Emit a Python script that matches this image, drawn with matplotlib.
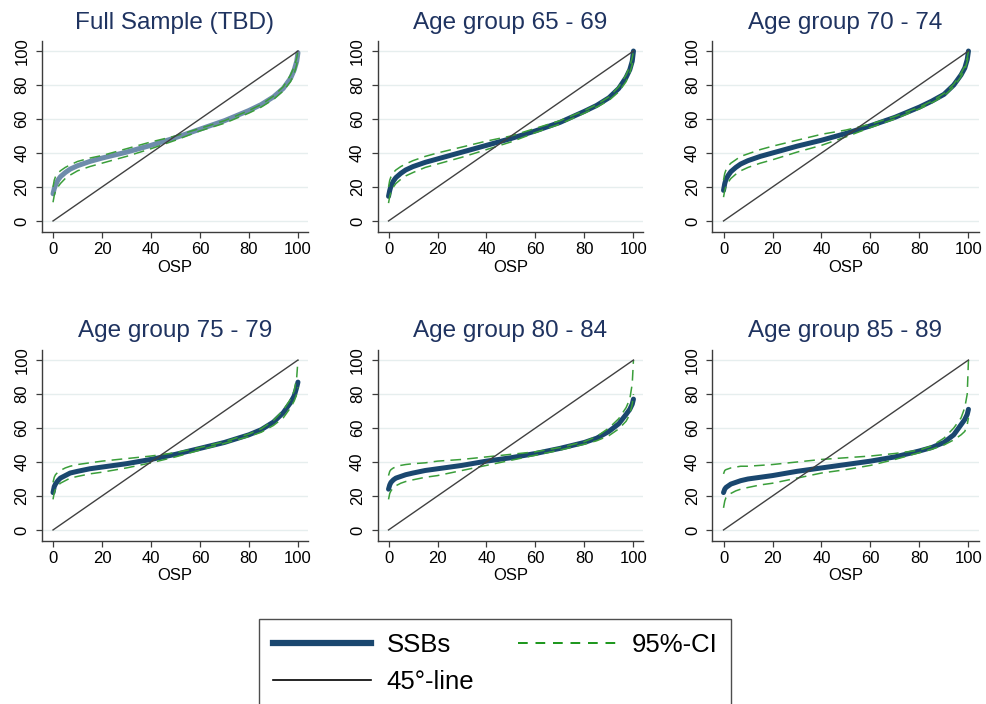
import matplotlib
matplotlib.use("Agg")
from matplotlib import pyplot as plt
from matplotlib.lines import Line2D

plt.rcParams["font.family"] = ["Liberation Sans", "DejaVu Sans"]

# OSP grid the curves were read at
osp = [0, 0.5, 1, 2, 3, 5, 7, 10, 15, 20, 30, 40, 50, 60, 70, 80, 85, 90, 94, 97, 98.5, 99.5, 100]

titles = ["Full Sample (TBD)", "Age group 65 - 69", "Age group 70 - 74",
          "Age group 75 - 79", "Age group 80 - 84", "Age group 85 - 89"]

ssb_full = [16, 19, 21, 24, 26, 28.5, 30.5, 32.5, 35, 37, 40.5, 44.5, 49, 54, 59, 65, 68.5, 73, 78, 84, 89, 94, 99]
hi_full = [20, 24, 26, 28, 29.5, 31.5, 33, 35, 37, 38.5, 42.5, 46.5, 50, 54.5, 59, 65, 68.5, 73.5, 79, 86, 91, 96, 100]
lo_full = [11, 15, 17.5, 20, 22, 25, 27, 29.5, 32, 34, 38, 42.5, 47.5, 53, 57.5, 63.5, 67, 71.5, 76.5, 82, 87, 92, 97]

ssb_6569 = [14.5, 18, 20.5, 23.5, 25.5, 28, 30, 32, 34.5, 36.5, 40.5, 44.5, 48.5, 53, 58, 64.5, 68, 72.5, 78, 84.5, 89, 94, 100]
hi_6569 = [20, 24, 26, 28.5, 30, 32, 33.5, 35.5, 38, 40, 43.5, 47, 50, 54.5, 59, 65, 68.5, 73, 79, 86, 91, 96, 100]
lo_6569 = [10.5, 14.5, 17, 20, 22, 24.5, 26.5, 28.5, 31.5, 33.5, 37.5, 42, 46.5, 52, 57, 63.5, 67, 71, 76, 82, 87, 92, 96]

ssb_7074 = [18, 22, 24.5, 27, 29, 31.5, 33.5, 35.5, 38, 40, 44, 47.5, 51.5, 56, 61, 67, 70.5, 74.5, 80, 86, 90, 95, 100]
hi_7074 = [24, 28, 30, 32.5, 34, 36, 38, 39.5, 42, 44, 47.5, 51, 53.5, 57, 61.5, 67, 70.5, 75, 80.5, 87, 91, 96, 100]
lo_7074 = [14, 18, 20.5, 23, 25, 27.5, 29.5, 31.5, 34, 36, 40.5, 44.5, 49.5, 55, 60, 66, 69.5, 73.5, 79, 85, 89, 94, 98]

ssb_7579 = [22, 25.5, 27, 29, 30.5, 32, 33.5, 34.5, 36, 37, 39, 41.5, 44.5, 48, 51.5, 56, 59, 63.5, 69, 75, 79, 84, 87]
hi_7579 = [28, 31, 32.5, 34, 35, 36.5, 37.5, 38.5, 39.5, 40.5, 42, 43.5, 45.5, 48.5, 52, 56.5, 59.5, 64.5, 70.5, 77, 82, 90, 100]
lo_7579 = [18, 22, 24, 26, 27.5, 29, 30.5, 31.5, 33, 34, 36.5, 39.5, 43, 47, 51, 55, 57.5, 61.5, 66, 72, 76, 80, 84]

ssb_8084 = [24, 26.5, 28, 29.5, 30.5, 31.5, 32.5, 33.5, 35, 36, 38, 40.5, 42.5, 45, 48, 51.5, 54, 58, 62.5, 68, 71, 74, 77]
hi_8084 = [32, 34.5, 35.5, 36.5, 37, 38, 38.5, 39, 39.5, 40.5, 41.5, 43, 44.5, 46, 48.5, 52, 55, 60, 65.5, 72, 77, 86, 100]
lo_8084 = [18, 21.5, 23, 25, 26, 27.5, 28.5, 29.5, 31, 32, 35, 38, 41, 44, 47, 50.5, 52.5, 55.5, 59.5, 64, 68, 74, 80]

ssb_8589 = [22, 24, 25, 26, 27, 28, 29, 30, 31, 32, 34.5, 36.5, 38.5, 40.5, 43, 46.5, 48.5, 51.5, 56, 62, 65, 68, 71]
hi_8589 = [33, 35, 35.5, 36, 36.5, 37, 37.5, 37.5, 38, 38.5, 40, 41.5, 42.5, 43.5, 45, 47, 49.5, 54, 60, 66, 72, 80, 100]
lo_8589 = [13, 17, 19, 20.5, 21.5, 23, 24, 25, 26.5, 27.5, 30.5, 33.5, 35.5, 38, 41.5, 45.5, 47.5, 50, 53, 56, 58, 62, 66]

ssb = [ssb_full, ssb_6569, ssb_7074, ssb_7579, ssb_8084, ssb_8589]
ci_hi = [hi_full, hi_6569, hi_7074, hi_7579, hi_8084, hi_8589]
ci_lo = [lo_full, lo_6569, lo_7074, lo_7579, lo_8084, lo_8589]

diag = [0, 100]
ticks = [0, 20, 40, 60, 80, 100]

navy = "#1a476f"
navy_light = "#6e8cab"
green = "#3a9e3a"
title_col = "#1f3360"
spine_col = "#3c3c3c"

W, H = 987, 704
fig = plt.figure(figsize=(W / 100, H / 100), dpi=100)

lefts = [42, 377.5, 712.5]
tops = [41, 350]
aw, ah = 266, 191

for i in range(6):
    r, c = divmod(i, 3)
    ax = fig.add_axes([lefts[c] / W, 1 - (tops[r] + ah) / H, aw / W, ah / H])
    col = navy_light if i == 0 else navy
    ax.plot(osp, ssb[i], color=col, lw=3.6, solid_capstyle="round", zorder=2)
    ax.plot(osp, ci_hi[i], color=green, lw=1.1, ls=(0, (7, 4)), zorder=3)
    ax.plot(osp, ci_lo[i], color=green, lw=1.1, ls=(0, (7, 4)), zorder=3)
    ax.plot(diag, diag, color="#404040", lw=1.0, zorder=4)

    ax.set_xlim(-4.5, 104.1)
    ax.set_ylim(-6.5, 105.9)
    ax.set_xticks(ticks)
    ax.set_yticks(ticks)
    ax.grid(axis="y", color="#e6eeee", lw=1.0)
    ax.set_axisbelow(True)
    for s in ["top", "right"]:
        ax.spines[s].set_visible(False)
    for s in ["left", "bottom"]:
        ax.spines[s].set_color(spine_col)
        ax.spines[s].set_linewidth(1.0)
    ax.tick_params(colors=spine_col, labelcolor="black", labelsize=12, length=4, width=0.9)
    ax.tick_params(axis="x", pad=3)
    ax.tick_params(axis="y", pad=5)
    for lab in ax.get_yticklabels():
        lab.set_rotation(90)
        lab.set_va("center")
    ax.set_xlabel("OSP", fontsize=12, labelpad=2)
    ax.set_title(titles[i], fontsize=17.5, color=title_col, pad=9)

handles = [
    Line2D([], [], color=navy, lw=4.5),
    Line2D([], [], color="black", lw=1.2),
    Line2D([], [], color="#1a961a", lw=1.4, ls=(0, (5, 4))),
]
labels = ["SSBs", "45\u00b0-line", "95%-CI"]
leg = fig.legend(handles, labels, ncol=2, loc="upper left",
                 bbox_to_anchor=(259 / W, 1 - 619 / H), fontsize=18.5,
                 frameon=True, fancybox=False, edgecolor="#222222",
                 handlelength=3.8, handletextpad=0.62, columnspacing=1.7,
                 labelspacing=0.5, borderpad=0.55, borderaxespad=0)
leg.get_frame().set_linewidth(1.0)

fig.savefig("out.png", dpi=100)
